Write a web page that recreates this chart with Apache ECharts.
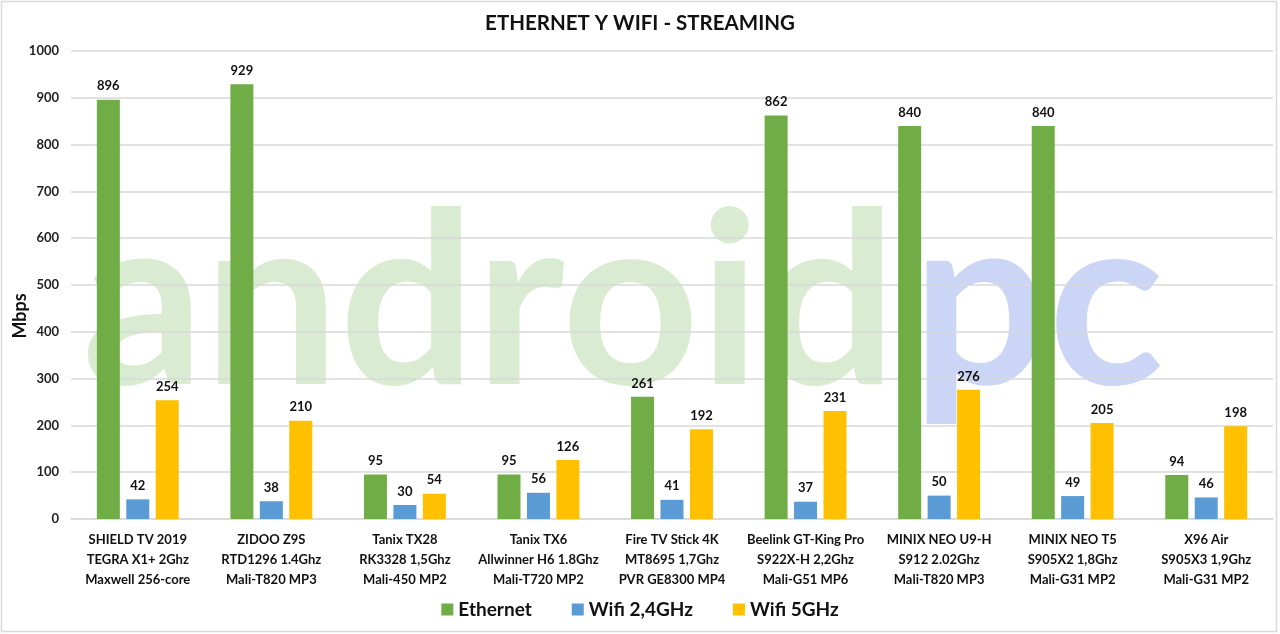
<!DOCTYPE html>
<html>
<head>
<meta charset="utf-8">
<script src="https://cdn.jsdelivr.net/npm/echarts@6/dist/echarts.min.js"></script>
<style>
html,body{margin:0;padding:0;background:#fff;}
#chart{width:1280px;height:634px;}
</style>
</head>
<body>
<div id="chart"></div>
<script>
const categories = [
  "SHIELD TV 2019\nTEGRA X1+ 2Ghz\nMaxwell 256-core",
  "ZIDOO Z9S\nRTD1296 1.4Ghz\nMali-T820 MP3",
  "Tanix TX28\nRK3328 1,5Ghz\nMali-450 MP2",
  "Tanix TX6\nAllwinner H6 1.8Ghz\nMali-T720 MP2",
  "Fire TV Stick 4K\nMT8695 1,7Ghz\nPVR GE8300 MP4",
  "Beelink GT-King Pro\nS922X-H 2,2Ghz\nMali-G51 MP6",
  "MINIX NEO U9-H\nS912 2.02Ghz\nMali-T820 MP3",
  "MINIX NEO T5\nS905X2 1,8Ghz\nMali-G31 MP2",
  "X96 Air\nS905X3 1,9Ghz\nMali-G31 MP2"
];
const ethernet = [896, 929, 95, 95, 261, 862, 840, 840, 94];
const wifi24 = [42, 38, 30, 56, 41, 37, 50, 49, 46];
const wifi5 = [254, 210, 54, 126, 192, 231, 276, 205, 198];
const seriesNames = ["Ethernet", "Wifi 2,4GHz", "Wifi 5GHz"];
const yTicks = { min: 0, max: 1000, interval: 100 };

const FONT = "Lato, 'Open Sans', sans-serif";
const chart = echarts.init(document.getElementById('chart'), null, {renderer: 'canvas'});
const labelCfg = {
  show: true, position: 'top', distance: 7,
  color: '#111', fontSize: 13, fontWeight: 'bold', fontFamily: FONT
};
const option = {
  backgroundColor: '#fff',
  animation: false,
  title: {
    text: 'ETHERNET Y WIFI - STREAMING',
    left: 'center', top: 8,
    textStyle: { fontFamily: FONT, fontSize: 20.5, fontWeight: 'bold', color: '#111' }
  },
  graphic: [
    { type: 'rect', z: -5, silent: true,
      shape: { x: 1.5, y: 1.5, width: 1275, height: 630 },
      style: { fill: 'none', stroke: '#d9d9d9', lineWidth: 1.5 } },
    { type: 'text', z: -5, silent: true, x: 82, y: 307,
      style: { text: 'android', fill: '#d9ecd2', font: 'bold 240px Lato, sans-serif',
               align: 'left', verticalAlign: 'middle' } },
    { type: 'text', z: -5, silent: true, x: 912, y: 307,
      style: { text: 'pc', fill: '#cbd5f6', font: 'bold 240px Lato, sans-serif',
               align: 'left', verticalAlign: 'middle' } }
  ],
  legend: {
    bottom: 10, left: 'center',
    itemWidth: 12, itemHeight: 12, itemGap: 40,
    icon: 'rect',
    textStyle: { fontFamily: FONT, fontSize: 19, fontWeight: 'bold', color: '#111' },
    data: seriesNames
  },
  grid: { left: 71, right: 7, top: 51, bottom: 115, containLabel: false, outerBoundsMode: 'none' },
  xAxis: {
    type: 'category', data: categories,
    axisLine: { show: true, lineStyle: { color: '#d9d9d9', width: 1.5 } },
    axisTick: { show: false },
    axisLabel: {
      interval: 0, margin: 11, lineHeight: 20,
      fontFamily: FONT, fontSize: 13, fontWeight: 'bold', color: '#111'
    }
  },
  yAxis: {
    type: 'value', min: yTicks.min, max: yTicks.max, interval: yTicks.interval,
    name: 'Mbps', nameLocation: 'middle', nameGap: 42, nameRotate: 90,
    nameMoveOverlap: false,
    nameTextStyle: { fontFamily: FONT, fontSize: 18, fontWeight: 'bold', color: '#111',
                     padding: [0, 62, 0, 0] },
    axisLine: { show: false }, axisTick: { show: false },
    splitLine: { lineStyle: { color: '#d9d9d9', width: 1.5 } },
    axisLabel: { margin: 12, fontFamily: FONT, fontSize: 13, fontWeight: 'bold', color: '#222',
                 formatter: v => String(v) }
  },
  series: [
    { name: seriesNames[0], type: 'bar', data: ethernet, barWidth: 23, barGap: '28%',
      itemStyle: { color: '#70ad47' }, label: labelCfg },
    { name: seriesNames[1], type: 'bar', data: wifi24, barWidth: 23, barGap: '28%',
      itemStyle: { color: '#5b9bd5' }, label: labelCfg },
    { name: seriesNames[2], type: 'bar', data: wifi5, barWidth: 23, barGap: '28%',
      itemStyle: { color: '#ffc000' }, label: labelCfg }
  ]
};
chart.setOption(option);
</script>
</body>
</html>
